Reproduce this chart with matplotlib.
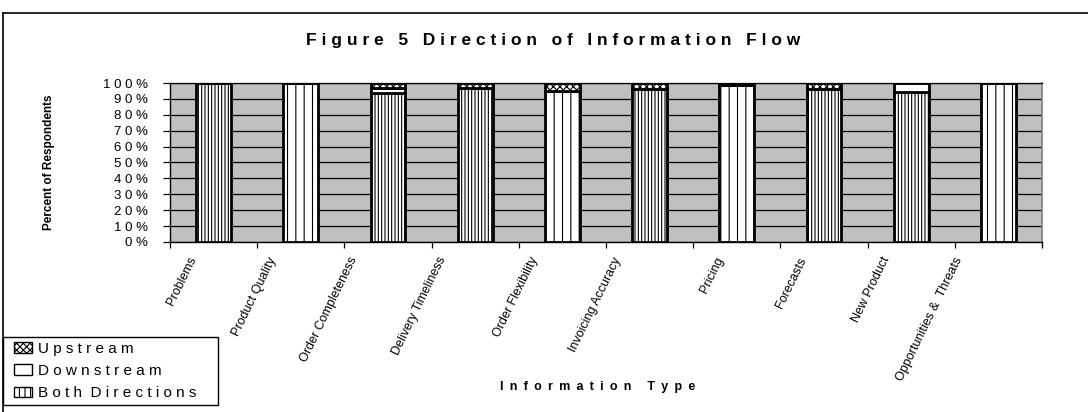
import matplotlib
matplotlib.use("Agg")
import matplotlib.pyplot as plt
import matplotlib.transforms as mtransforms
import numpy as np
from matplotlib.lines import Line2D
from matplotlib.patches import Patch, Rectangle
from matplotlib.legend_handler import HandlerPatch

# ---- data -------------------------------------------------------------
categories = ["Problems", "Product Quality", "Order Completeness",
              "Delivery Timeliness", "Order Flexibility", "Invoicing Accuracy",
              "Pricing", "Forecasts", "New Product", "Opportunities &  Threats"]
both_directions = [100, 100, 93.4, 96.7, 95, 96, 99, 96, 94.5, 100]
downstream = [0, 0, 3.3, 0, 0, 0, 1, 0, 5.5, 0]
upstream = [0, 0, 3.3, 3.3, 5, 4, 0, 4, 0, 0]
y_ticks = list(range(0, 101, 10))

# ---- style ------------------------------------------------------------
plt.rcParams['font.family'] = ['Liberation Sans', 'DejaVu Sans']
plt.rcParams['hatch.linewidth'] = 0.8
plt.rcParams['hatch.color'] = 'black'

EN = "\u2002"


def spaced(text, gap=" ", word_gap="  "):
    """Spread the letters of a string apart, as in the printed figure."""
    return word_gap.join(gap.join(w) for w in text.split(" ") if w)


W, H = 1088, 412
fig = plt.figure(figsize=(W / 100, H / 100), dpi=100)
ax = fig.add_axes([170 / W, 1 - 242 / H, (1042 - 170) / W, (242 - 83) / H])
ax.set_facecolor('#c0c0c0')

x = np.arange(len(categories))
bar_w = 0.40
both_hatch = ['|||||', '||', '|||||', '|||||', '||', '|||||', '||', '|||||', '|||||', '||']

ax.set_axisbelow(True)
ax.yaxis.grid(True, color='black', linewidth=0.9)

bars_both = ax.bar(x, both_directions, width=bar_w, color='white',
                   edgecolor='black', linewidth=2.0, zorder=3)
for b, h in zip(bars_both, both_hatch):
    b.set_hatch(h)
bottom2 = np.array(both_directions)
ax.bar(x, downstream, width=bar_w, bottom=bottom2, color='white',
       edgecolor='black', linewidth=2.0, zorder=3)
bottom3 = bottom2 + np.array(downstream)
ax.bar(x, upstream, width=bar_w, bottom=bottom3, color='white',
       edgecolor='black', linewidth=2.0, hatch='xxxxx', zorder=3)

ax.set_xlim(-0.5, len(categories) - 0.5)
ax.set_ylim(0, 100)

# y axis
ax.set_yticks(y_ticks)
ax.set_yticklabels([spaced(f"{v}%") for v in y_ticks], fontsize=9.5)
ax.tick_params(axis='y', direction='out', length=5, width=0.9, pad=11)

# x axis: tick marks on the category boundaries, slanted category names
ax.set_xticks(np.arange(len(categories) + 1) - 0.5)
ax.set_xticklabels([])
ax.tick_params(axis='x', direction='out', length=4, width=0.9)

renderer = fig.canvas.get_renderer()
base = mtransforms.blended_transform_factory(ax.transData, ax.transAxes)
for i, name in enumerate(categories):
    probe = fig.text(0, 0, name, fontsize=9)
    length_px = probe.get_window_extent(renderer).width
    probe.remove()
    dx = -(13 + 0.23 * length_px)           # longer names sit further left
    shift = mtransforms.ScaledTranslation(dx / 100, -13 / 100, fig.dpi_scale_trans)
    ax.text(i, 0, name, fontsize=9, rotation=64, rotation_mode='anchor',
            ha='right', va='top', transform=base + shift, clip_on=False)

for s in ['left', 'bottom']:
    ax.spines[s].set_color('black')
    ax.spines[s].set_linewidth(1.0)
ax.spines['top'].set_color('black')
ax.spines['top'].set_linewidth(0.9)
ax.spines['right'].set_color('#808080')
ax.spines['right'].set_linewidth(1.2)

ax.set_ylabel("Percent of Respondents", fontsize=8.5, fontweight='bold')
ax.yaxis.set_label_coords(-(170 - 55) / (1042 - 170), 0.5)

fig.text(598 / W, 1 - 387 / H, spaced("Information Type", EN, EN * 2 + " "),
         fontsize=9, fontweight='bold', ha='center', va='center')
fig.text(553 / W, 1 - 41 / H,
         spaced("Figure 5 Direction of Information Flow", " ", "   "),
         fontsize=12.5, fontweight='bold', ha='center', va='center')

# outer frame of the chart (top and left edges)
fig.add_artist(Line2D([3 / W, 1], [1 - 13 / H, 1 - 13 / H], color='black',
                      linewidth=1.2, transform=fig.transFigure))
fig.add_artist(Line2D([3 / W, 3 / W], [0, 1 - 13 / H], color='black',
                      linewidth=1.2, transform=fig.transFigure))


# legend: compact swatches set a little in from the box edge
def swatch(legend, orig_handle, xdescent, ydescent, width, height, fontsize):
    w = 0.72 * width
    return Rectangle((-xdescent + width - w, -ydescent), w, height)


handles = [Patch(facecolor='white', edgecolor='black', hatch='xxxxx', linewidth=1.0),
           Patch(facecolor='white', edgecolor='black', linewidth=1.0),
           Patch(facecolor='white', edgecolor='black', hatch='|||', linewidth=1.0)]
labels = [spaced("Upstream"), spaced("Downstream"), spaced("Both Directions") + "    "]
leg = fig.legend(handles, labels, loc='upper left',
                 bbox_to_anchor=(3 / W, 1 - 337 / H), bbox_transform=fig.transFigure,
                 fontsize=11, frameon=True, fancybox=False, framealpha=1,
                 edgecolor='black', handlelength=1.6, handleheight=0.7,
                 handletextpad=0.4, labelspacing=0.55, borderpad=0.3,
                 borderaxespad=0,
                 handler_map={Patch: HandlerPatch(patch_func=swatch)})
leg.get_frame().set_linewidth(1.0)

fig.savefig("out.png", dpi=100)
